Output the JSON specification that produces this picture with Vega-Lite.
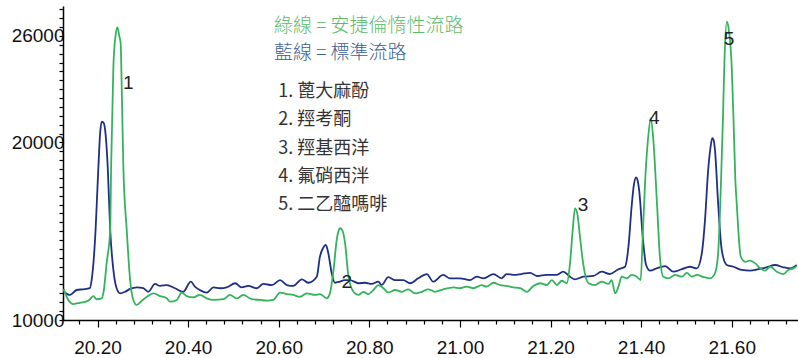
{
  "$schema": "https://vega.github.io/schema/vega-lite/v6.json",
  "width": 735,
  "height": 314,
  "autosize": "none",
  "padding": {"left": 63, "top": 6, "right": 0, "bottom": 38},
  "background": "white",
  "config": {
    "view": {"stroke": null},
    "axis": {
      "grid": false,
      "title": null,
      "domainColor": "#000000",
      "domainWidth": 1.5,
      "tickColor": "#000000",
      "tickWidth": 1.2,
      "labelColor": "#111111",
      "labelFont": "Liberation Sans",
      "labelFontSize": 19,
      "labelOverlap": false,
      "labelFlush": false,
      "labelBound": false
    }
  },
  "datasets": {
    "blue": [
      {"t": 20.125, "v": 11590}, {"t": 20.139, "v": 11410}, {"t": 20.154, "v": 11690}, {"t": 20.168, "v": 11730},
      {"t": 20.183, "v": 11790}, {"t": 20.187, "v": 12250}, {"t": 20.191, "v": 13210}, {"t": 20.1945, "v": 14510},
      {"t": 20.202, "v": 18640}, {"t": 20.2055, "v": 20420}, {"t": 20.209, "v": 21170}, {"t": 20.213, "v": 21130},
      {"t": 20.218, "v": 20420}, {"t": 20.2225, "v": 18640}, {"t": 20.228, "v": 15070}, {"t": 20.235, "v": 12820},
      {"t": 20.242, "v": 11800}, {"t": 20.25, "v": 11500}, {"t": 20.261, "v": 11590}, {"t": 20.272, "v": 11750},
      {"t": 20.287, "v": 11840}, {"t": 20.301, "v": 11790}, {"t": 20.312, "v": 11590}, {"t": 20.327, "v": 12030},
      {"t": 20.338, "v": 11920}, {"t": 20.353, "v": 11970}, {"t": 20.371, "v": 11790}, {"t": 20.389, "v": 11590},
      {"t": 20.406, "v": 12160}, {"t": 20.415, "v": 11880}, {"t": 20.426, "v": 11690}, {"t": 20.441, "v": 11540},
      {"t": 20.456, "v": 11840}, {"t": 20.4705, "v": 11790}, {"t": 20.485, "v": 11840}, {"t": 20.504, "v": 12070},
      {"t": 20.518, "v": 11840}, {"t": 20.533, "v": 11920}, {"t": 20.5515, "v": 11790}, {"t": 20.566, "v": 12030},
      {"t": 20.585, "v": 11970}, {"t": 20.603, "v": 12250}, {"t": 20.618, "v": 11970}, {"t": 20.632, "v": 11920},
      {"t": 20.651, "v": 12290}, {"t": 20.665, "v": 12100}, {"t": 20.684, "v": 12440}, {"t": 20.691, "v": 13570},
      {"t": 20.698, "v": 14060}, {"t": 20.704, "v": 14230}, {"t": 20.7095, "v": 13760}, {"t": 20.717, "v": 12630},
      {"t": 20.724, "v": 12100}, {"t": 20.735, "v": 12160}, {"t": 20.746, "v": 12250}, {"t": 20.757, "v": 12250},
      {"t": 20.776, "v": 12070}, {"t": 20.7905, "v": 12100}, {"t": 20.805, "v": 12030}, {"t": 20.82, "v": 12160},
      {"t": 20.827, "v": 11970}, {"t": 20.842, "v": 12410}, {"t": 20.857, "v": 12250}, {"t": 20.875, "v": 12250},
      {"t": 20.89, "v": 12070}, {"t": 20.908, "v": 12350}, {"t": 20.927, "v": 12590}, {"t": 20.941, "v": 12160},
      {"t": 20.963, "v": 12540}, {"t": 20.978, "v": 12350}, {"t": 21.0, "v": 12350}, {"t": 21.022, "v": 12250},
      {"t": 21.037, "v": 12440}, {"t": 21.052, "v": 12350}, {"t": 21.074, "v": 12590}, {"t": 21.092, "v": 12350},
      {"t": 21.103, "v": 12590}, {"t": 21.118, "v": 12540}, {"t": 21.136, "v": 12590}, {"t": 21.155, "v": 12660},
      {"t": 21.17, "v": 12480}, {"t": 21.192, "v": 12540}, {"t": 21.214, "v": 12540}, {"t": 21.228, "v": 12720},
      {"t": 21.243, "v": 12440}, {"t": 21.254, "v": 12290}, {"t": 21.272, "v": 12440}, {"t": 21.2945, "v": 12480},
      {"t": 21.313, "v": 12720}, {"t": 21.331, "v": 12590}, {"t": 21.35, "v": 12860}, {"t": 21.3645, "v": 13000},
      {"t": 21.372, "v": 14130}, {"t": 21.379, "v": 16380}, {"t": 21.384, "v": 17610}, {"t": 21.389, "v": 18040},
      {"t": 21.392, "v": 17890}, {"t": 21.396, "v": 17230}, {"t": 21.4035, "v": 14690}, {"t": 21.411, "v": 13100},
      {"t": 21.42, "v": 12780}, {"t": 21.434, "v": 12910}, {"t": 21.453, "v": 13040}, {"t": 21.471, "v": 12720},
      {"t": 21.49, "v": 12860}, {"t": 21.508, "v": 13000}, {"t": 21.523, "v": 12910}, {"t": 21.534, "v": 13760},
      {"t": 21.541, "v": 15630}, {"t": 21.548, "v": 18450}, {"t": 21.553, "v": 19690}, {"t": 21.557, "v": 20240},
      {"t": 21.56, "v": 20140}, {"t": 21.563, "v": 19580}, {"t": 21.57, "v": 16570}, {"t": 21.578, "v": 13940},
      {"t": 21.589, "v": 13100}, {"t": 21.6035, "v": 13000}, {"t": 21.622, "v": 12820}, {"t": 21.64, "v": 12780},
      {"t": 21.659, "v": 12860}, {"t": 21.677, "v": 12970}, {"t": 21.696, "v": 13100}, {"t": 21.714, "v": 12970},
      {"t": 21.729, "v": 12910}, {"t": 21.7435, "v": 13100}
    ],
    "green": [
      {"t": 20.125, "v": 11750}, {"t": 20.1355, "v": 11130}, {"t": 20.147, "v": 10900}, {"t": 20.161, "v": 10970},
      {"t": 20.18, "v": 11090}, {"t": 20.191, "v": 11350}, {"t": 20.198, "v": 11170}, {"t": 20.209, "v": 11220},
      {"t": 20.214, "v": 11690}, {"t": 20.22, "v": 13190}, {"t": 20.228, "v": 15070}, {"t": 20.23, "v": 18640},
      {"t": 20.235, "v": 24270}, {"t": 20.24, "v": 26060}, {"t": 20.244, "v": 26490}, {"t": 20.2475, "v": 26060},
      {"t": 20.251, "v": 25590}, {"t": 20.254, "v": 22390}, {"t": 20.257, "v": 18640}, {"t": 20.2645, "v": 15070},
      {"t": 20.272, "v": 12250}, {"t": 20.279, "v": 11130}, {"t": 20.2865, "v": 10850}, {"t": 20.298, "v": 11090},
      {"t": 20.309, "v": 11310}, {"t": 20.323, "v": 11500}, {"t": 20.338, "v": 11350}, {"t": 20.353, "v": 11220},
      {"t": 20.36, "v": 11030}, {"t": 20.375, "v": 11130}, {"t": 20.386, "v": 11540}, {"t": 20.397, "v": 11350},
      {"t": 20.4115, "v": 11280}, {"t": 20.426, "v": 11410}, {"t": 20.441, "v": 11220}, {"t": 20.456, "v": 11130},
      {"t": 20.478, "v": 11170}, {"t": 20.4925, "v": 11410}, {"t": 20.507, "v": 11220}, {"t": 20.522, "v": 11410},
      {"t": 20.5405, "v": 11170}, {"t": 20.559, "v": 11130}, {"t": 20.574, "v": 11090}, {"t": 20.588, "v": 11130},
      {"t": 20.603, "v": 11540}, {"t": 20.618, "v": 11460}, {"t": 20.632, "v": 11410}, {"t": 20.647, "v": 11310},
      {"t": 20.662, "v": 11500}, {"t": 20.68, "v": 11410}, {"t": 20.691, "v": 11460}, {"t": 20.706, "v": 11220},
      {"t": 20.713, "v": 11500}, {"t": 20.721, "v": 12820}, {"t": 20.728, "v": 14510}, {"t": 20.732, "v": 15010},
      {"t": 20.735, "v": 15170}, {"t": 20.74, "v": 15070}, {"t": 20.7465, "v": 14320}, {"t": 20.754, "v": 12440},
      {"t": 20.765, "v": 11590}, {"t": 20.776, "v": 11410}, {"t": 20.787, "v": 11590}, {"t": 20.798, "v": 11460},
      {"t": 20.809, "v": 11690}, {"t": 20.82, "v": 11970}, {"t": 20.831, "v": 11790}, {"t": 20.842, "v": 11540},
      {"t": 20.857, "v": 11690}, {"t": 20.872, "v": 11590}, {"t": 20.886, "v": 11730}, {"t": 20.901, "v": 11500},
      {"t": 20.916, "v": 11590}, {"t": 20.93, "v": 11730}, {"t": 20.945, "v": 11590}, {"t": 20.963, "v": 11730},
      {"t": 20.986, "v": 11840}, {"t": 21.0, "v": 11790}, {"t": 21.015, "v": 11880}, {"t": 21.03, "v": 11790},
      {"t": 21.048, "v": 11970}, {"t": 21.059, "v": 11880}, {"t": 21.074, "v": 12100}, {"t": 21.089, "v": 11970},
      {"t": 21.103, "v": 11920}, {"t": 21.118, "v": 11840}, {"t": 21.133, "v": 11790}, {"t": 21.148, "v": 11590},
      {"t": 21.162, "v": 11920}, {"t": 21.177, "v": 12070}, {"t": 21.192, "v": 11970}, {"t": 21.203, "v": 12250},
      {"t": 21.214, "v": 11970}, {"t": 21.225, "v": 12210}, {"t": 21.236, "v": 12070}, {"t": 21.243, "v": 13190},
      {"t": 21.249, "v": 15070}, {"t": 21.254, "v": 16290}, {"t": 21.259, "v": 16010}, {"t": 21.265, "v": 14690},
      {"t": 21.272, "v": 13190}, {"t": 21.284, "v": 12070}, {"t": 21.298, "v": 11970}, {"t": 21.313, "v": 12160},
      {"t": 21.328, "v": 12030}, {"t": 21.335, "v": 12250}, {"t": 21.3425, "v": 11500}, {"t": 21.35, "v": 11880},
      {"t": 21.357, "v": 12440}, {"t": 21.3685, "v": 12350}, {"t": 21.379, "v": 12540}, {"t": 21.3905, "v": 12440},
      {"t": 21.399, "v": 12250}, {"t": 21.4035, "v": 14690}, {"t": 21.409, "v": 17890}, {"t": 21.415, "v": 20140},
      {"t": 21.4215, "v": 21360}, {"t": 21.427, "v": 20140}, {"t": 21.435, "v": 16570}, {"t": 21.442, "v": 13380},
      {"t": 21.449, "v": 12440}, {"t": 21.46, "v": 12350}, {"t": 21.475, "v": 12540}, {"t": 21.49, "v": 12440},
      {"t": 21.501, "v": 12660}, {"t": 21.512, "v": 12440}, {"t": 21.523, "v": 12540}, {"t": 21.538, "v": 12410},
      {"t": 21.552, "v": 12350}, {"t": 21.563, "v": 12630}, {"t": 21.57, "v": 13760}, {"t": 21.576, "v": 17510},
      {"t": 21.5805, "v": 21270}, {"t": 21.584, "v": 24650}, {"t": 21.589, "v": 26810}, {"t": 21.593, "v": 26450},
      {"t": 21.6, "v": 24270}, {"t": 21.604, "v": 21270}, {"t": 21.608, "v": 17890}, {"t": 21.611, "v": 16570},
      {"t": 21.62, "v": 13570}, {"t": 21.63, "v": 13280}, {"t": 21.64, "v": 13340}, {"t": 21.652, "v": 13190},
      {"t": 21.663, "v": 12910}, {"t": 21.674, "v": 12780}, {"t": 21.685, "v": 13000}, {"t": 21.6995, "v": 12720},
      {"t": 21.714, "v": 12590}, {"t": 21.725, "v": 12820}, {"t": 21.736, "v": 12910}, {"t": 21.7435, "v": 13040}
    ],
    "peaks": [
      {"t": 20.268, "v": 23350, "label": "1"},
      {"t": 20.75, "v": 12160, "label": "2"},
      {"t": 21.272, "v": 16480, "label": "3"},
      {"t": 21.429, "v": 21360, "label": "4"},
      {"t": 21.594, "v": 25815, "label": "5"}
    ],
    "keyGreen": [{"t": 20.5897, "v": 26540, "label": "綠線 = 安捷倫惰性流路"}],
    "keyBlue": [{"t": 20.5897, "v": 25030, "label": "藍線 = 標準流路"}],
    "compounds": [
      {"t": 20.599, "v": 22870, "label": "1. 蓖大麻酚"},
      {"t": 20.599, "v": 21260, "label": "2. 羥考酮"},
      {"t": 20.599, "v": 19660, "label": "3. 羥基西洋"},
      {"t": 20.599, "v": 18060, "label": "4. 氟硝西泮"},
      {"t": 20.599, "v": 16460, "label": "5. 二乙醯嗎啡"}
    ]
  },
  "encoding": {
    "x": {
      "field": "t",
      "type": "quantitative",
      "scale": {"domain": [20.1238, 21.7463], "nice": false, "zero": false},
      "axis": {
        "values": [20.16, 20.2, 20.24, 20.28, 20.32, 20.36, 20.4, 20.44, 20.48, 20.52, 20.56, 20.6, 20.64, 20.68, 20.72, 20.76, 20.8, 20.84, 20.88, 20.92, 20.96, 21.0, 21.04, 21.08, 21.12, 21.16, 21.2, 21.24, 21.28, 21.32, 21.36, 21.4, 21.44, 21.48, 21.52, 21.56, 21.6, 21.64, 21.68, 21.72],
        "labelExpr": "abs(datum.value * 5 - round(datum.value * 5)) < 0.001 ? format(datum.value, '.2f') : ''",
        "tickSize": {"condition": {"test": "abs(datum.value * 5 - round(datum.value * 5)) < 0.001", "value": 7}, "value": 4},
        "labelPadding": 11
      }
    },
    "y": {
      "field": "v",
      "type": "quantitative",
      "scale": {"domain": [10000, 27690], "nice": false, "zero": false},
      "axis": {
        "values": [10000, 10500, 11000, 11500, 12000, 12500, 13000, 13500, 14000, 14500, 15000, 15500, 16000, 16500, 17000, 17500, 18000, 18500, 19000, 19500, 20000, 20500, 21000, 21500, 22000, 22500, 23000, 23500, 24000, 24500, 25000, 25500, 26000, 26500, 27000, 27500],
        "labelExpr": "datum.value == 10000 || datum.value == 20000 || datum.value == 26000 ? format(datum.value, 'd') : ''",
        "tickSize": 4,
        "labelPadding": -5
      }
    }
  },
  "layer": [
    {
      "data": {"name": "blue"},
      "mark": {"type": "line", "color": "#1f2e86", "strokeWidth": 1.8, "interpolate": "monotone"}
    },
    {
      "data": {"name": "green"},
      "mark": {"type": "line", "color": "#33b45c", "strokeWidth": 1.8, "interpolate": "monotone"}
    },
    {
      "data": {"name": "peaks"},
      "mark": {"type": "text", "font": "Liberation Sans", "fontSize": 19, "color": "#222222", "align": "center", "baseline": "middle"},
      "encoding": {"text": {"field": "label"}}
    },
    {
      "data": {"name": "keyGreen"},
      "mark": {"type": "text", "font": "Noto Sans CJK TC", "fontWeight": 300, "fontSize": 19, "color": "#5dbb6c", "align": "left", "baseline": "middle"},
      "encoding": {"text": {"field": "label"}}
    },
    {
      "data": {"name": "keyBlue"},
      "mark": {"type": "text", "font": "Noto Sans CJK TC", "fontWeight": 300, "fontSize": 19, "color": "#3d5e92", "align": "left", "baseline": "middle"},
      "encoding": {"text": {"field": "label"}}
    },
    {
      "data": {"name": "compounds"},
      "mark": {"type": "text", "font": "Noto Sans CJK TC", "fontSize": 18, "color": "#333333", "align": "left", "baseline": "middle"},
      "encoding": {"text": {"field": "label"}}
    }
  ]
}
